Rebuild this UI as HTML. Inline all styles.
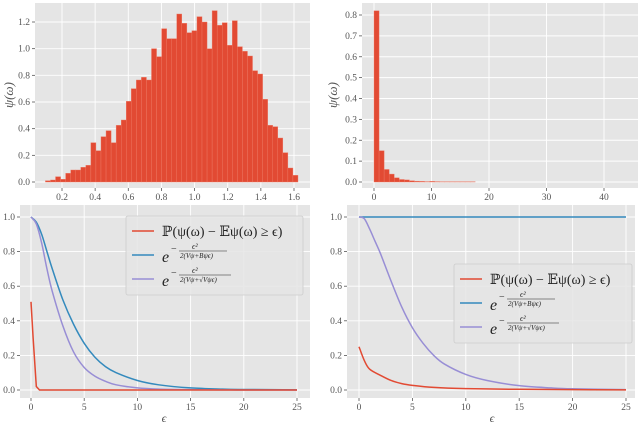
<!DOCTYPE html>
<html><head><meta charset="utf-8"><style>
body{margin:0;background:#fff;}
svg{display:block;font-family:"Liberation Serif","DejaVu Serif",serif;}
</style></head><body>
<svg id="fig" width="640" height="426"></svg>
<script>
// ---- data ----
const histA_start = 0.1, histA_width = 0.03048;
const histA_values = [0.01,0.015,0.04,0.02,0.065,0.09,0.09,0.11,0.125,0.295,0.235,0.34,0.385,0.295,0.425,0.465,0.605,0.7,0.765,0.785,0.765,1.0,0.94,1.15,1.075,1.075,1.26,1.19,1.12,1.135,1.24,1.2,1.0,1.285,1.175,1.195,1.025,1.21,1.015,0.98,0.945,0.835,0.81,0.62,0.425,0.415,0.33,0.22,0.105,0.05];
const histA_xticks = [0.2,0.4,0.6,0.8,1.0,1.2,1.4,1.6];
const histA_yticks = [0,0.2,0.4,0.6,0.8,1.0,1.2];
const histB_start = 0, histB_width = 0.88;
const histB_values = [0.82,0.15,0.06,0.038,0.02,0.012,0.01,0.006,0.004,0.003,0.002,0.003,0.002,0.001,0.001,0.001,0.001,0.001,0.001,0.001];
const histB_xticks = [0,10,20,30,40];
const histB_yticks = [0,0.1,0.2,0.3,0.4,0.5,0.6,0.7,0.8];
const epsTicks = [0,5,10,15,20,25];
const probTicks = [0,0.2,0.4,0.6,0.8,1.0];
const L_eps = [0,0.5,1,1.5,2,3,4,5,6,7,8,10,12,15,18,20,25];
const L_blue = [1.0,0.97,0.9,0.8,0.7,0.52,0.38,0.27,0.19,0.135,0.1,0.055,0.03,0.012,0.005,0.003,0.001];
const L_purple = [1.0,0.96,0.85,0.7,0.57,0.37,0.22,0.13,0.08,0.05,0.03,0.012,0.005,0.002,0.001,0,0];
const L_red_eps = [0,0.2,0.5,0.8,25];
const L_red = [0.51,0.3,0.02,0,0];
const R_eps = [0,0.5,1,1.5,2,3,4,5,6,7,8,10,12,15,18,20,25];
const R_blue = [1,1,1,1,1,1,1,1,1,1,1,1,1,1,1,1,1];
const R_purple = [1,0.99,0.93,0.86,0.79,0.63,0.48,0.36,0.27,0.2,0.15,0.09,0.055,0.025,0.012,0.007,0.002];
const R_red_eps = [0,0.5,1,2,3,4,5,7,10,15,20,25];
const R_red = [0.25,0.17,0.12,0.085,0.055,0.037,0.027,0.015,0.008,0.004,0.002,0.001];

const NS="http://www.w3.org/2000/svg";
const svg=document.getElementById('fig');
function el(tag,attrs,parent){const e=document.createElementNS(NS,tag);for(const k in attrs)e.setAttribute(k,attrs[k]);(parent||svg).appendChild(e);return e;}
function lin(d0,d1,r0,r1){return v=>r0+(v-d0)*(r1-r0)/(d1-d0);}

function axes(name,box,sx,sy,xt,yt,xfmt,yfmt){
  const g=el('g',{});
  
  
  el('rect',{x:box[0],y:box[1],width:box[2]-box[0],height:box[3]-box[1],fill:'#E5E5E5'},g);
  xt.forEach(t=>{const x=sx(t);el('line',{x1:x,x2:x,y1:box[1],y2:box[3],stroke:'#fff','stroke-width':0.9},g);
    el('line',{x1:x,x2:x,y1:box[3],y2:box[3]+3,stroke:'#555','stroke-width':0.8},g);
    const tx=el('text',{x:x,y:box[3]+12,'font-size':9.5,fill:'#555','text-anchor':'middle'},g);tx.textContent=xfmt(t);
    });
  yt.forEach(t=>{const y=sy(t);el('line',{x1:box[0],x2:box[2],y1:y,y2:y,stroke:'#fff','stroke-width':0.9},g);
    el('line',{x1:box[0]-3,x2:box[0],y1:y,y2:y,stroke:'#555','stroke-width':0.8},g);
    const tx=el('text',{x:box[0]-5,y:y+3,'font-size':9.5,fill:'#555','text-anchor':'end'},g);tx.textContent=yfmt(t);
    });
  return g;
}
function ylabel(x,y,name){const t=el('text',{x:x,y:y,'font-size':13,fill:'#555','font-style':'italic','text-anchor':'middle',transform:`rotate(-90 ${x} ${y})`});t.textContent='ψ(ω)';}
function xlabel(x,y,name){const t=el('text',{x:x,y:y,'font-size':12,fill:'#555','font-style':'italic','text-anchor':'middle'});t.textContent='ϵ';}
function hist(g,vals,start,w,sx,sy,name){vals.forEach((v,i)=>{const x0=sx(start+i*w),x1=sx(start+(i+1)*w);
  const r=el('rect',{x:x0,y:sy(v),width:x1-x0,height:sy(0)-sy(v),fill:'#E24A33',stroke:'#EE7A66','stroke-width':0.4},g);
  });}
function line(g,xs,ys,sx,sy,color,name,smooth){
  const P=xs.map((x,i)=>[sx(x),sy(ys[i])]);
  let d='M'+P[0][0]+','+P[0][1];
  for(let i=0;i<P.length-1;i++){const p0=P[Math.max(0,i-1)],p1=P[i],p2=P[i+1],p3=P[Math.min(P.length-1,i+2)];
    if(!smooth){d+=` L${p2[0]},${p2[1]}`;continue;}
    const c1=[p1[0]+(p2[0]-p0[0])/6,p1[1]+(p2[1]-p0[1])/6],c2=[p2[0]-(p3[0]-p1[0])/6,p2[1]-(p3[1]-p1[1])/6];
    d+=` C${c1[0]},${c1[1]} ${c2[0]},${c2[1]} ${p2[0]},${p2[1]}`;}
  const p=el('path',{d:d,fill:'none',stroke:color,'stroke-width':1.5},g);
  }
function legend(x,y,w,h,name){const g=el('g',{});
  el('rect',{x:x,y:y,width:w,height:h,fill:'#E5E5E5','fill-opacity':0.85,stroke:'#ccc','stroke-width':0.8,rx:2},g);
  const items=[['#E24A33','ℙ(ψ(ω) − 𝔼ψ(ω) ≥ ϵ)'],['#348ABD','2(Vψ+Bψϵ)'],['#988ED5','2(Vψ+√Vψϵ)']];
  items.forEach((it,i)=>{const cy=y+15+i*24;el('line',{x1:x+6,x2:x+28,y1:cy,y2:cy,stroke:it[0],'stroke-width':1.5},g);
    if(i===0){const t=el('text',{x:x+36,y:cy+5,'font-size':14,fill:'#222'},g);t.textContent=it[1];}
    else{const t=el('text',{x:x+36,y:cy+7,'font-size':16,fill:'#222','font-style':'italic'},g);t.textContent='e';
      const m=el('text',{x:x+45,y:cy-3,'font-size':10,fill:'#222'},g);m.textContent='−';
      const n=el('text',{x:x+66,y:cy-6,'font-size':8,fill:'#222','font-style':'italic'},g);n.textContent='ϵ²';
      el('line',{x1:x+53,x2:x+53+(i===1?48:52),y1:cy-4,y2:cy-4,stroke:'#222','stroke-width':0.5},g);
      const d=el('text',{x:x+54,y:cy+3,'font-size':7,fill:'#222','font-style':'italic'},g);d.textContent=it[1];}
  });}

// top-left
let sx=lin(0.2,1.6,62,294), sy=lin(0,1.2,182,22);
let g=axes('histogram-left',[35,3,310,188],sx,sy,histA_xticks,histA_yticks,v=>v.toFixed(1),v=>v.toFixed(1));
hist(g,histA_values,histA_start,histA_width,sx,sy,'hist-left');
ylabel(13,95,'y-axis-title-left-top');
// top-right
sx=lin(0,40,374,604); sy=lin(0,0.8,182,15);
g=axes('histogram-right',[362,3,638,188],sx,sy,histB_xticks,histB_yticks,v=>String(v),v=>v.toFixed(1));
hist(g,histB_values,histB_start,histB_width,sx,sy,'hist-right');
ylabel(337,95,'y-axis-title-right-top');
// bottom-left
sx=lin(0,25,31,297); sy=lin(0,1,390,217);
g=axes('tail-plot-left',[20,205,310,398],sx,sy,epsTicks,probTicks,v=>String(v),v=>v.toFixed(1));
line(g,L_eps,L_blue,sx,sy,'#348ABD','bernstein-bound-left',true);
line(g,L_eps,L_purple,sx,sy,'#988ED5','sqrt-bound-left',true);
line(g,L_red_eps,L_red,sx,sy,'#E24A33','empirical-tail-left',false);
legend(126,216,177,79,'legend-left');
xlabel(164,422,'x-axis-title-left');
// bottom-right
sx=lin(0,25,359,626); sy=lin(0,1,390,217);
g=axes('tail-plot-right',[347,205,635,398],sx,sy,epsTicks,probTicks,v=>String(v),v=>v.toFixed(1));
line(g,R_eps,R_blue,sx,sy,'#348ABD','bernstein-bound-right',true);
line(g,R_eps,R_purple,sx,sy,'#988ED5','sqrt-bound-right',true);
line(g,R_red_eps,R_red,sx,sy,'#E24A33','empirical-tail-right',true);
legend(454,264,178,79,'legend-right');
xlabel(492,422,'x-axis-title-right');
</script>
</body></html>
